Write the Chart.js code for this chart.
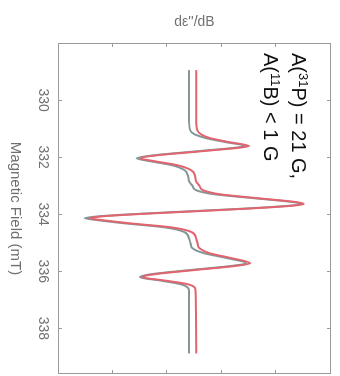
<!DOCTYPE html>
<html>
<head>
<meta charset="utf-8">
<script src="https://cdn.jsdelivr.net/npm/chart.js@4.4.1/dist/chart.umd.min.js"></script>
<style>
  html, body { margin: 0; padding: 0; background: #fff; overflow: hidden; width: 340px; height: 376px; }
  /* spectrum is plotted field-horizontal, then turned a quarter turn clockwise */
  #wrap {
    position: absolute; left: 0; top: 0;
    width: 376px; height: 340px;
    transform-origin: 0 0;
    transform: translateX(340px) rotate(90deg);
  }
</style>
</head>
<body>
<div id="wrap"><canvas id="epr" width="376" height="340"></canvas></div>
<script>
// EPR first-derivative spectrum, experiment vs. simulation
const fieldMT = [
  328.95, 330.70, 331.05, 331.20, 331.33, 331.47, 331.61, 331.68, 331.75, 331.82,
  331.93, 332.04, 332.14, 332.28, 332.46, 332.65, 332.85, 333.00, 333.16, 333.30,
  333.44, 333.58, 333.65, 333.72, 333.80, 333.89, 333.98, 334.07, 334.14, 334.21,
  334.32, 334.46, 334.63, 334.85, 335.05, 335.19, 335.37, 335.54, 335.72, 335.82,
  335.96, 336.11, 336.21, 336.32, 336.46, 336.67, 338.88
];
const experiment = [
  0.00, 0.00, 0.02, 0.10, 0.30, 0.66, 1.02, 0.80, 0.40, 0.00,
  -0.62, -0.96, -0.72, -0.32, -0.08, -0.02, 0.00, 0.06, 0.13, 0.46,
  1.19, 1.92, 2.05, 1.72, 1.05, 0.10, -0.85, -1.63, -1.91, -1.67,
  -1.18, -0.45, -0.08, 0.00, 0.03, 0.06, 0.28, 0.70, 1.05, 0.74,
  0.00, -0.72, -0.90, -0.54, -0.14, 0.00, 0.00
];
const simulation = [
  0.13, 0.13, 0.15, 0.22, 0.38, 0.72, 1.10, 0.88, 0.48, 0.08,
  -0.56, -0.89, -0.64, -0.22, 0.04, 0.11, 0.13, 0.19, 0.26, 0.56,
  1.26, 1.98, 2.10, 1.78, 1.12, 0.20, -0.76, -1.55, -1.82, -1.58,
  -1.08, -0.33, 0.05, 0.13, 0.16, 0.19, 0.38, 0.78, 1.12, 0.82,
  0.09, -0.66, -0.85, -0.46, -0.01, 0.12, 0.13
];
const fieldTicks = [330, 332, 334, 336, 338];
const intensityTicks = [-1.4, -0.4, 0.6, 1.6];
// coupling note, split into normal / superscript runs
const annotationLines = [
  [['A(', false], ['31', true], ['P) = 21 G,', false]],
  [['A(', false], ['11', true], ['B) < 1 G', false]]
];

const toPoints = (ys) => fieldMT.map((b, i) => ({ x: b, y: ys[i] }));
const FONT = '"Liberation Sans", Arial, sans-serif';

// box frame with inward ticks on all four sides, plus the coupling note
const framePlugin = {
  id: 'frame',
  afterDraw(chart) {
    const { ctx, chartArea: a, scales: { x, y } } = chart;
    ctx.save();
    ctx.strokeStyle = '#9a9a9a';
    ctx.lineWidth = 1;
    ctx.strokeRect(a.left + 0.5, a.top + 0.5, a.right - a.left - 1, a.bottom - a.top - 1);
    ctx.beginPath();
    fieldTicks.forEach(v => {
      const px = Math.round(x.getPixelForValue(v)) + 0.5;
      ctx.moveTo(px, a.bottom); ctx.lineTo(px, a.bottom - 4);
      ctx.moveTo(px, a.top); ctx.lineTo(px, a.top + 4);
    });
    intensityTicks.forEach(v => {
      const py = Math.round(y.getPixelForValue(v)) + 0.5;
      ctx.moveTo(a.left, py); ctx.lineTo(a.left + 4, py);
      ctx.moveTo(a.right, py); ctx.lineTo(a.right - 4, py);
    });
    ctx.stroke();

    ctx.fillStyle = '#111';
    ctx.textBaseline = 'alphabetic';
    annotationLines.forEach((runs, i) => {
      let cx = a.left + 10;
      const base = a.top + 39 + i * 28;
      runs.forEach(([t, sup]) => {
        ctx.font = (sup ? 13 : 20) + 'px ' + FONT;
        ctx.fillText(t, cx, sup ? base - 7 : base);
        cx += ctx.measureText(t).width;
      });
    });
    ctx.restore();
  }
};

new Chart(document.getElementById('epr'), {
  type: 'line',
  data: {
    datasets: [
      {
        label: 'simulation',
        data: toPoints(simulation),
        borderColor: '#e2646f',
        borderWidth: 2,
        pointRadius: 0,
        cubicInterpolationMode: 'monotone',
        fill: false
      },
      {
        label: 'experiment',
        data: toPoints(experiment),
        borderColor: '#849797',
        borderWidth: 2,
        pointRadius: 0,
        cubicInterpolationMode: 'monotone',
        fill: false
      }
    ]
  },
  options: {
    responsive: false,
    animation: false,
    devicePixelRatio: 1,
    layout: { padding: { left: 0, right: 2, top: 9, bottom: 0 } },
    plugins: { legend: { display: false }, tooltip: { enabled: false } },
    scales: {
      x: {
        type: 'linear',
        min: 328,
        max: 339.6,
        grid: { display: false, drawTicks: false },
        border: { display: false },
        afterBuildTicks: (s) => { s.ticks = fieldTicks.map(v => ({ value: v })); },
        afterFit: (s) => { s.height = 58; },
        ticks: {
          padding: 7,
          maxRotation: 0,
          color: '#707070',
          font: { family: FONT, size: 14 }
        },
        title: {
          display: true,
          text: 'Magnetic Field (mT)',
          color: '#707070',
          padding: { top: 0, bottom: 6 },
          font: { family: FONT, size: 15 }
        }
      },
      y: {
        type: 'linear',
        min: -2.4,
        max: 2.6,
        grid: { display: false, drawTicks: false },
        border: { display: false },
        afterBuildTicks: (s) => { s.ticks = intensityTicks.map(v => ({ value: v })); },
        afterFit: (s) => { s.width = 43; },
        ticks: { display: false },
        title: {
          display: true,
          text: 'd\u03B5\'\'/dB',
          color: '#707070',
          padding: { top: 14, bottom: 0 },
          font: { family: FONT, size: 14 }
        }
      }
    }
  },
  plugins: [framePlugin]
});
</script>
</body>
</html>
